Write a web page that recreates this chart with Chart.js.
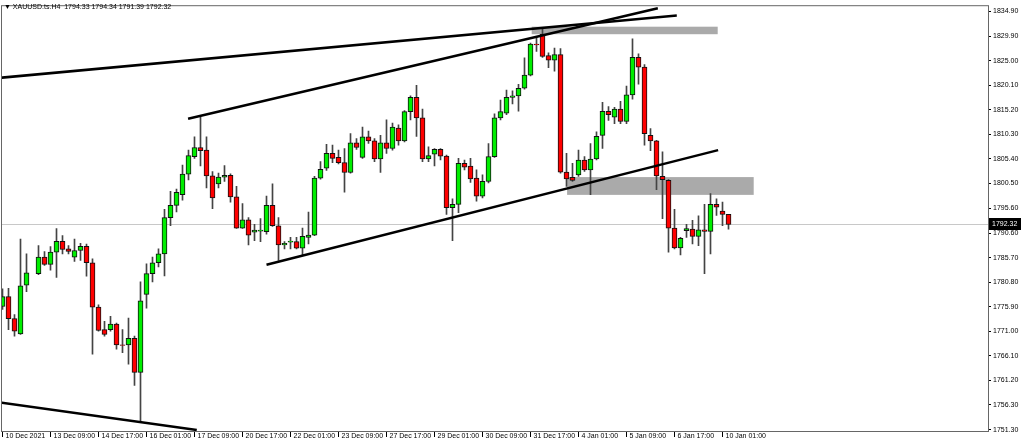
<!DOCTYPE html>
<html>
<head>
<meta charset="utf-8">
<script src="https://cdn.jsdelivr.net/npm/chart.js@4.4.1/dist/chart.umd.min.js"></script>
<style>
  html, body { margin: 0; padding: 0; background: #fff; }
  #wrap { position: relative; width: 1024px; height: 447px; }
  #title {
    position: absolute; left: 4px; top: 3px;
    font: 7px "Liberation Sans", Arial, sans-serif; color: #000;
    white-space: pre; line-height: 8px;
  }
</style>
</head>
<body>
<div id="wrap">
  <canvas id="chart" width="1024" height="447"></canvas>
  <div id="title">▼ XAUUSD.ts.H4  1794.33 1794.34 1791.39 1792.32</div>
</div>
<script>
// H4 candles, index 0 = 10 Dec 2021 01:00 (bar 5 is not drawn in the source)
const barIndex = [
  0, 1, 2, 3, 4, 6, 7, 8, 9, 10, 11, 12, 13, 14, 15, 16, 17, 18, 19, 20,
  21, 22, 23, 24, 25, 26, 27, 28, 29, 30, 31, 32, 33, 34, 35, 36, 37, 38, 39, 40,
  41, 42, 43, 44, 45, 46, 47, 48, 49, 50, 51, 52, 53, 54, 55, 56, 57, 58, 59, 60,
  61, 62, 63, 64, 65, 66, 67, 68, 69, 70, 71, 72, 73, 74, 75, 76, 77, 78, 79, 80,
  81, 82, 83, 84, 85, 86, 87, 88, 89, 90, 91, 92, 93, 94, 95, 96, 97, 98, 99, 100,
  101, 102, 103, 104, 105, 106, 107, 108, 109, 110, 111, 112, 113, 114, 115, 116, 117, 118, 119, 120,
  121
];
const opens = [
  1775.95, 1777.92, 1773.53, 1770.49, 1780.23, 1782.52, 1785.81, 1784.37, 1786.79, 1788.96,
  1787.44, 1785.81, 1787.13, 1787.98, 1784.68, 1775.81, 1771.35, 1771.35, 1772.46, 1768.30,
  1768.26, 1769.58, 1762.80, 1778.37, 1782.52, 1784.68, 1786.46, 1793.69, 1796.12, 1798.29,
  1802.37, 1805.86, 1807.69, 1807.16, 1802.03, 1800.40, 1801.78, 1802.11, 1797.83, 1791.58,
  1793.24, 1790.80, 1791.00, 1790.87, 1796.12, 1792.06, 1788.23, 1788.80, 1788.90, 1787.58,
  1789.75, 1790.20, 1801.58, 1803.55, 1806.51, 1805.72, 1804.68, 1802.70, 1808.62, 1805.72,
  1809.80, 1809.01, 1805.39, 1808.62, 1807.49, 1811.57, 1809.01, 1814.85, 1817.69, 1813.61,
  1805.39, 1806.37, 1807.30, 1805.98, 1795.67, 1796.32, 1804.54, 1804.00, 1801.58, 1797.97,
  1800.93, 1805.86, 1813.61, 1814.53, 1817.69, 1818.00, 1819.52, 1822.14, 1828.33, 1830.31,
  1826.03, 1825.10, 1826.23, 1802.76, 1801.72, 1802.23, 1805.19, 1803.22, 1805.39, 1810.12,
  1814.93, 1813.74, 1815.38, 1812.88, 1818.20, 1825.69, 1823.72, 1810.12, 1809.01, 1801.91,
  1801.13, 1791.58, 1787.64, 1791.07, 1791.39, 1789.95, 1791.27, 1790.93, 1796.32, 1794.99,
  1794.33
];
const highs = [
  1779.50, 1779.56, 1774.32, 1789.42, 1786.46, 1788.11, 1786.93, 1787.92, 1791.52, 1790.09,
  1788.11, 1789.42, 1788.57, 1788.43, 1785.47, 1776.28, 1773.00, 1773.98, 1772.66, 1771.35,
  1773.64, 1770.03, 1780.88, 1784.49, 1785.81, 1787.44, 1795.33, 1798.96, 1799.41, 1804.20,
  1807.16, 1809.80, 1813.74, 1809.80, 1802.90, 1802.57, 1804.08, 1802.42, 1799.94, 1796.50,
  1793.69, 1792.37, 1793.50, 1797.97, 1800.46, 1793.69, 1788.90, 1789.75, 1789.75, 1791.58,
  1794.82, 1801.91, 1804.87, 1808.34, 1808.15, 1807.16, 1807.49, 1810.45, 1809.47, 1811.77,
  1810.98, 1809.47, 1810.12, 1813.21, 1812.56, 1812.23, 1815.05, 1818.00, 1820.11, 1815.38,
  1807.83, 1807.49, 1807.49, 1806.17, 1797.44, 1805.52, 1805.19, 1805.52, 1803.22, 1802.23,
  1808.48, 1814.40, 1817.16, 1819.13, 1818.99, 1820.31, 1825.57, 1828.53, 1829.83, 1831.49,
  1826.56, 1827.55, 1827.41, 1806.51, 1804.54, 1807.16, 1805.86, 1808.48, 1810.79, 1816.70,
  1815.84, 1815.72, 1816.90, 1819.97, 1829.38, 1826.36, 1824.25, 1811.44, 1809.14, 1806.84,
  1801.30, 1795.33, 1789.75, 1792.37, 1793.16, 1794.03, 1796.32, 1798.49, 1797.44, 1796.79,
  1794.34
];
const lows = [
  1775.36, 1771.35, 1770.03, 1770.36, 1778.91, 1782.32, 1784.17, 1783.18, 1781.73, 1786.46,
  1786.46, 1784.96, 1785.16, 1782.00, 1766.43, 1771.02, 1770.03, 1771.02, 1767.41, 1766.74,
  1764.46, 1760.18, 1752.94, 1775.61, 1780.88, 1783.84, 1782.06, 1792.06, 1794.82, 1797.18,
  1801.24, 1805.52, 1804.00, 1799.61, 1795.47, 1799.61, 1800.93, 1796.79, 1791.52, 1791.52,
  1788.23, 1789.09, 1788.90, 1790.40, 1791.92, 1785.16, 1787.44, 1787.44, 1787.44, 1786.14,
  1788.43, 1790.09, 1801.38, 1803.10, 1804.68, 1804.40, 1798.76, 1802.57, 1807.30, 1805.52,
  1808.48, 1804.87, 1802.70, 1806.51, 1807.16, 1808.15, 1808.82, 1813.21, 1809.92, 1804.87,
  1804.87, 1804.00, 1805.19, 1794.34, 1789.10, 1794.68, 1803.22, 1800.73, 1796.99, 1797.64,
  1800.60, 1805.72, 1813.21, 1814.26, 1816.37, 1814.93, 1819.32, 1821.95, 1826.88, 1825.69,
  1823.60, 1822.93, 1802.57, 1799.94, 1800.93, 1801.91, 1802.90, 1798.29, 1805.19, 1807.49,
  1813.08, 1812.42, 1812.42, 1812.42, 1817.35, 1820.31, 1808.15, 1807.04, 1799.27, 1793.50,
  1786.79, 1787.44, 1786.26, 1789.75, 1788.43, 1788.11, 1782.52, 1786.46, 1794.15, 1792.06,
  1791.39
];
const closes = [
  1777.92, 1773.53, 1771.02, 1780.09, 1782.65, 1785.81, 1784.37, 1786.79, 1788.96, 1787.33,
  1786.93, 1787.13, 1787.98, 1784.68, 1775.81, 1771.16, 1770.36, 1772.46, 1768.26, 1768.20,
  1769.58, 1762.80, 1777.07, 1782.52, 1784.68, 1786.46, 1793.69, 1796.12, 1798.76, 1802.37,
  1806.06, 1807.69, 1807.04, 1802.03, 1797.64, 1801.78, 1802.11, 1797.83, 1791.58, 1793.24,
  1790.20, 1791.19, 1791.19, 1796.12, 1792.06, 1788.23, 1788.57, 1789.02, 1787.58, 1789.95,
  1790.20, 1801.58, 1803.35, 1806.51, 1805.52, 1804.68, 1802.70, 1808.62, 1807.69, 1809.80,
  1809.01, 1805.39, 1808.62, 1807.49, 1811.77, 1809.01, 1814.85, 1817.69, 1813.61, 1805.39,
  1806.06, 1807.30, 1805.98, 1795.67, 1796.32, 1804.54, 1803.75, 1801.44, 1797.97, 1800.93,
  1805.86, 1813.61, 1814.85, 1817.69, 1818.00, 1819.52, 1822.14, 1828.33, 1828.18, 1825.89,
  1825.10, 1826.23, 1802.76, 1801.44, 1801.13, 1805.19, 1803.22, 1805.39, 1809.92, 1814.93,
  1814.26, 1815.38, 1812.88, 1818.20, 1825.69, 1823.72, 1810.45, 1809.01, 1802.03, 1801.25,
  1791.58, 1787.64, 1789.55, 1791.52, 1789.95, 1791.27, 1790.93, 1796.32, 1795.80, 1794.34,
  1792.32
];

// axis ticks
const xTickPos = [0, 8, 16, 24, 32, 40, 48, 56, 64, 72, 80, 88, 96, 104, 112, 120];
const xTickLabels = [
  '10 Dec 2021', '13 Dec 09:00', '14 Dec 17:00', '16 Dec 01:00', '17 Dec 09:00',
  '20 Dec 17:00', '22 Dec 01:00', '23 Dec 09:00', '27 Dec 17:00', '29 Dec 01:00',
  '30 Dec 09:00', '31 Dec 17:00', '4 Jan 01:00', '5 Jan 09:00', '6 Jan 17:00', '10 Jan 01:00'
];
const yTickValues = [
  1834.90, 1829.90, 1825.00, 1820.10, 1815.20, 1810.30, 1805.40, 1800.50, 1795.60,
  1790.60, 1785.70, 1780.80, 1775.90, 1771.00, 1766.10, 1761.20, 1756.30, 1751.30
];
const lastPrice = 1792.32;

// drawn objects: trend lines [bar0, price0, bar1, price1] and grey zones
const trendLines = [
  [-0.12, 1821.63, 112.38, 1834.01],
  [30.93, 1813.41, 109.22, 1835.49],
  [44.00, 1784.29, 119.27, 1807.16],
  [-0.12, 1756.73, 32.38, 1751.30]
];
const zones = [
  { from: 88.2, to: 119.2, top: 1831.80, bottom: 1830.30 },
  { from: 94.1, to: 125.2, top: 1801.78, bottom: 1798.23 }
];

const UP = '#00ee00';
const DOWN = '#ff0000';
const FONT = '"Liberation Sans", Arial, sans-serif';

Chart.defaults.font.family = FONT;
Chart.defaults.font.size = 7;
Chart.defaults.color = '#000';

const isUp = i => closes[i] >= opens[i];

const bodies = barIndex.map((b, i) => ({ x: b, y: [opens[i], closes[i]] }));
const wicks = barIndex.map((b, i) => ({ x: b, y: [lows[i], highs[i]] }));

const lineSets = trendLines.map(t => ({
  type: 'line',
  data: [{ x: t[0], y: t[1] }, { x: t[2], y: t[3] }],
  borderColor: '#000',
  borderWidth: 2.5,
  pointRadius: 0,
  order: 0,
}));

const overlay = {
  id: 'mt4Overlay',
  beforeDatasetsDraw(chart) {
    const { ctx, chartArea: a, scales: { x, y } } = chart;
    ctx.save();
    ctx.beginPath();
    ctx.rect(a.left, a.top, a.right - a.left, a.bottom - a.top);
    ctx.clip();
    ctx.fillStyle = '#aaaaaa';
    zones.forEach(z => {
      const x0 = x.getPixelForValue(z.from);
      const x1 = x.getPixelForValue(z.to);
      const y0 = y.getPixelForValue(z.top);
      const y1 = y.getPixelForValue(z.bottom);
      ctx.fillRect(x0, y0, x1 - x0, y1 - y0);
    });
    // bid line
    const py = Math.round(y.getPixelForValue(lastPrice)) + 0.5;
    ctx.strokeStyle = '#c8c8c8';
    ctx.lineWidth = 1;
    ctx.beginPath();
    ctx.moveTo(a.left, py);
    ctx.lineTo(a.right, py);
    ctx.stroke();
    ctx.restore();
  },
  afterDraw(chart) {
    const { ctx, chartArea: a, scales: { y } } = chart;
    ctx.save();
    // window frame
    ctx.strokeStyle = '#666';
    ctx.lineWidth = 1;
    ctx.strokeRect(a.left - 0.5, a.top - 0.5, a.right - a.left + 1, a.bottom - a.top + 1);
    // price label
    const py = Math.round(y.getPixelForValue(lastPrice));
    ctx.fillStyle = '#000';
    ctx.fillRect(a.right + 1, py - 6, 32, 12);
    ctx.fillStyle = '#fff';
    ctx.font = '7px ' + FONT;
    ctx.textBaseline = 'middle';
    ctx.fillText(lastPrice.toFixed(2), a.right + 4, py + 0.5);
    ctx.restore();
  }
};

new Chart(document.getElementById('chart'), {
  type: 'bar',
  data: {
    datasets: [
      ...lineSets,
      {
        data: bodies,
        backgroundColor: c => isUp(c.dataIndex) ? UP : DOWN,
        borderColor: '#111',
        borderWidth: 1,
        borderSkipped: false,
        barThickness: 5,
        grouped: false,
        order: 1,
      },
      {
        data: wicks,
        backgroundColor: '#444',
        borderWidth: 0,
        barThickness: 1,
        grouped: false,
        order: 2,
      }
    ]
  },
  options: {
    responsive: false,
    animation: false,
    layout: { padding: { left: 2, top: 1, right: 0, bottom: 0 } },
    plugins: { legend: { display: false }, tooltip: { enabled: false } },
    scales: {
      x: {
        type: 'linear',
        offset: false,
        min: -0.0833,
        max: 164.25,
        grid: { display: true, drawOnChartArea: false, offset: false, tickLength: 6, color: '#000' },
        border: { display: true, color: '#000' },
        afterBuildTicks: axis => { axis.ticks = xTickPos.map(v => ({ value: v })); },
        afterFit: axis => { axis.height = 16; },
        ticks: {
          autoSkip: false,
          maxRotation: 0,
          align: 'start',
          labelOffset: 3,
          padding: -5,
          callback: (v, i) => xTickLabels[i],
        }
      },
      y: {
        position: 'right',
        min: 1751.10,
        max: 1835.89,
        grid: { display: true, drawOnChartArea: false, tickLength: 3, color: '#000' },
        border: { display: true, color: '#000' },
        afterBuildTicks: axis => { axis.ticks = yTickValues.map(v => ({ value: v })); },
        afterFit: axis => { axis.width = 36; },
        ticks: {
          autoSkip: false,
          padding: 2,
          callback: v => Number(v).toFixed(2),
        }
      }
    }
  },
  plugins: [overlay]
});
</script>
</body>
</html>
